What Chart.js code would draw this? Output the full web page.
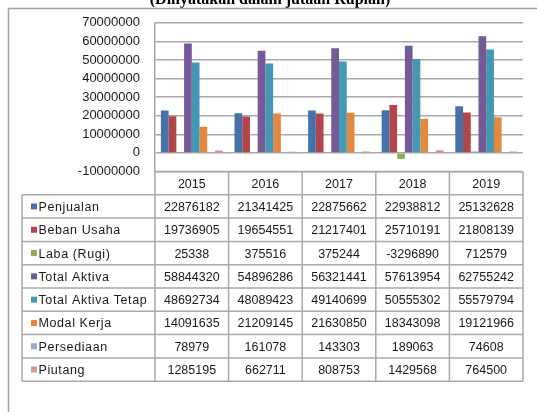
<!DOCTYPE html>
<html>
<head>
<meta charset="utf-8">
<script src="https://cdn.jsdelivr.net/npm/chart.js@4.4.0/dist/chart.umd.min.js"></script>
<style>
    html, body { margin: 0; padding: 0; background: #fff; }
    #wrap { width: 537px; height: 412px; position: relative; }
</style>
</head>
<body>
<div id="wrap"><canvas id="chart" width="537" height="412"></canvas></div>
<script>
// Laporan keuangan 2015 - 2019
const years = ['2015', '2016', '2017', '2018', '2019'];
const seriesNames = ['Penjualan', 'Beban Usaha', 'Laba (Rugi)', 'Total Aktiva', 'Total Aktiva Tetap', 'Modal Kerja', 'Persediaan', 'Piutang'];
const penjualan = [22876182, 21341425, 22875662, 22938812, 25132628];
const bebanUsaha = [19736905, 19654551, 21217401, 25710191, 21808139];
const labaRugi = [25338, 375516, 375244, -3296890, 712579];
const totalAktiva = [58844320, 54896286, 56321441, 57613954, 62755242];
const totalAktivaTetap = [48692734, 48089423, 49140699, 50555302, 55579794];
const modalKerja = [14091635, 21209145, 21630850, 18343098, 19121966];
const persediaan = [78979, 161078, 143303, 189063, 74608];
const piutang = [1285195, 662711, 808753, 1429568, 764500];
const yTicks = [-10000000, 0, 10000000, 20000000, 30000000, 40000000, 50000000, 60000000, 70000000];
const titleText = '(Dinyatakan dalam jutaan Rupiah)';

(function() {
    'use strict';

    const values = [penjualan, bebanUsaha, labaRugi, totalAktiva, totalAktivaTetap, modalKerja, persediaan, piutang];
    const colors = ['#4672aa', '#b2464a', '#8fae50', '#745a96', '#4399b3', '#e4883f', '#96aad4', '#d69694'];
    const gridColor = '#a9a9a9';
    const textColor = '#1a1a1a';
    const numFont = '12.5px "Liberation Sans", Arial, sans-serif';

    // title, outer frame and data table
    const extras = {
        id: 'extras',
        afterDraw(chart) {
            const ctx = chart.ctx;
            const area = chart.chartArea;
            const n = years.length;
            const colW = (area.right - area.left) / n;
            const rowH = 23.3;
            const top = area.bottom;
            const rows = seriesNames.length;
            const bottom = top + rowH * (rows + 1);
            const tableLeft = 22;

            ctx.save();

            // title (partly cut off at the top)
            ctx.fillStyle = '#000';
            ctx.font = 'bold 16px "Liberation Serif", "Times New Roman", serif';
            ctx.textAlign = 'center';
            ctx.textBaseline = 'alphabetic';
            ctx.fillText(titleText, 270, 4);

            // outer frame
            ctx.strokeStyle = '#a0a0a0';
            ctx.lineWidth = 1.5;
            ctx.beginPath();
            ctx.moveTo(8.5, 412);
            ctx.lineTo(8.5, 8.5);
            ctx.lineTo(537, 8.5);
            ctx.stroke();

            // table grid
            ctx.strokeStyle = gridColor;
            ctx.lineWidth = 1.5;
            ctx.beginPath();
            ctx.moveTo(area.left, top);
            ctx.lineTo(area.right, top);
            for (let r = 1; r <= rows + 1; r++) {
                const y = top + rowH * r;
                ctx.moveTo(tableLeft, y);
                ctx.lineTo(area.right, y);
            }
            for (let c = 0; c <= n; c++) {
                const x = area.left + colW * c;
                ctx.moveTo(x, top);
                ctx.lineTo(x, bottom);
            }
            ctx.moveTo(tableLeft, top + rowH);
            ctx.lineTo(tableLeft, bottom);
            ctx.stroke();

            // year header
            ctx.fillStyle = textColor;
            ctx.font = numFont;
            ctx.textAlign = 'center';
            ctx.textBaseline = 'middle';
            years.forEach((yr, c) => {
                ctx.fillText(yr, area.left + colW * (c + 0.5), top + rowH / 2 + 1);
            });

            // rows
            seriesNames.forEach((name, r) => {
                const cy = top + rowH * (r + 1.5) + 1;
                ctx.fillStyle = colors[r];
                ctx.fillRect(31, cy - 4, 6, 6);
                ctx.fillStyle = textColor;
                ctx.textAlign = 'left';
                ctx.font = numFont;
                if ('letterSpacing' in ctx) ctx.letterSpacing = '0.6px';
                ctx.fillText(name, 38.5, cy);
                if ('letterSpacing' in ctx) ctx.letterSpacing = '0px';
                ctx.textAlign = 'center';
                values[r].forEach((v, c) => {
                    ctx.fillText(String(v), area.left + colW * (c + 0.5), cy);
                });
            });

            ctx.restore();
        }
    };

    const datasets = seriesNames.map((name, i) => ({
        label: name,
        data: values[i],
        backgroundColor: colors[i],
        borderWidth: 0,
        categoryPercentage: 0.84,
        barPercentage: 1.0
    }));

    new Chart(document.getElementById('chart'), {
        type: 'bar',
        data: { labels: years, datasets: datasets },
        options: {
            responsive: false,
            animation: false,
            devicePixelRatio: 1,
            layout: {
                padding: { left: 10, right: 14, top: 19, bottom: 240.5 }
            },
            plugins: {
                legend: { display: false },
                title: { display: false },
                tooltip: { enabled: false }
            },
            scales: {
                x: {
                    display: false,
                    grid: { display: false }
                },
                y: {
                    min: -10000000,
                    max: 70000000,
                    afterBuildTicks(scale) {
                        scale.ticks = yTicks.map(v => ({ value: v }));
                    },
                    afterFit(scale) {
                        scale.width = 145;
                    },
                    border: { display: true, color: gridColor, width: 1.5 },
                    grid: {
                        color: gridColor,
                        lineWidth: 1.5,
                        drawTicks: false
                    },
                    ticks: {
                        padding: 15,
                        color: textColor,
                        font: { family: '"Liberation Sans", Arial, sans-serif', size: 13 },
                        callback: v => String(v)
                    }
                }
            }
        },
        plugins: [extras]
    });
})();
</script>
</body>
</html>
